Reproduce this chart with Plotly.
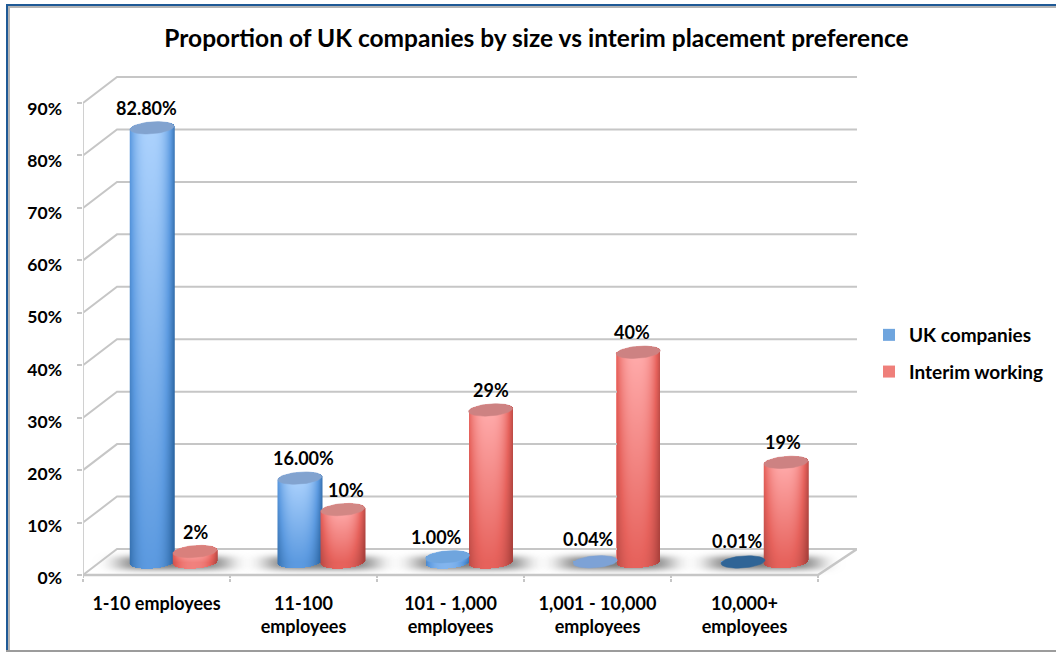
import numpy as np
import plotly.graph_objects as go

# ---- data ----
categories = ["1-10 employees", "11-100<br>employees", "101 - 1,000<br>employees",
              "1,001 - 10,000<br>employees", "10,000+<br>employees"]
uk_companies = [82.8, 16.0, 1.0, 0.04, 0.01]
interim_working = [2, 10, 29, 40, 19]
uk_labels = ["82.80%", "16.00%", "1.00%", "0.04%", "0.01%"]
interim_labels = ["2%", "10%", "29%", "40%", "19%"]
y_ticks = list(range(0, 100, 10))
y_tick_text = [f"{v}%" for v in y_ticks]
title = "Proportion of UK companies by size vs interim placement preference"

# ---- styling ----
W, H = 1056, 652
PX_L, PX_R, PX_T, PX_Z = 83, 857, 66, 575      # plot left/right/top, pixel row of 0%
SX, SY = 147.0, 5.244                           # pixels per category / per percent
PX_B = PX_Z + 3                                 # plot bottom, a little below 0%
DX, DY = 34 / SX, 26 / SY                       # depth of the 3-D box
XR = (PX_R - PX_L) / SX
YR = (PX_Z - PX_T) / SY
YLOW = -(PX_B - PX_Z) / SY
HALF = 22 / SX
SEP = 21.5 / SX
BASE = 13 / SY
CAP_B = 6 / SY
TILT = 1.6 / SY
GROUP_STEP = 147.75 / SX
GRID = "#c6c6c6"
FONT = "Lato"
BLUE_CS = [[0, "#1f4f86"], [0.34, "#2f6aa8"], [0.62, "#5c9ae0"], [1, "#acd2fd"]]
RED_CS = [[0, "#8c2a27"], [0.34, "#b0443f"], [0.62, "#e6625c"], [1, "#ffabab"]]
uk_caps = ["#82a3cf", "#82a3cf", "#6fa5de", "#7da2d6", "#2f6496"]
int_caps = ["#d9807c", "#d28784", "#cd8282", "#cd8282", "#cd8282"]
uk_dx = [-6, 4, -11, -7, -6]
uk_dy = [20, 20, 20, 23, 21]
int_dx = [0, 3, 0, -6, -3]
int_dy = [20, 20, 20, 20, 20]

fig = go.Figure()

positions = np.arange(len(categories)) * GROUP_STEP + 0.5 + DX / 2

# floor shadows
for cx in positions:
    xs = cx + np.arange(-85, 85, 1.0) / SX
    ys = BASE + np.arange(-13, 16, 1.0) / SY
    X, Y = np.meshgrid((xs - cx) * SX, (ys - BASE) * SY)
    z = np.exp(-(np.abs(X / 57) ** 5) - (np.abs((Y + 0.5) / 7.5) ** 2.6))
    fig.add_trace(go.Heatmap(x=xs.tolist(), y=ys.tolist(), z=np.round(z, 3).tolist(), zmin=0, zmax=1,
                             colorscale=[[0, "rgba(105,105,105,0)"], [1, "rgba(105,105,105,0.85)"]],
                             showscale=False, hoverinfo="skip"))

# box: gridlines on the back wall and slanted side-wall lines
for t in y_ticks:
    fig.add_trace(go.Scatter(x=[0, DX, XR], y=[t, t + DY, t + DY], mode="lines",
                             line=dict(color=GRID, width=2), showlegend=False, hoverinfo="skip"))
fig.add_trace(go.Scatter(x=[0, 0], y=[YLOW, y_ticks[-1]], mode="lines",
                         line=dict(color="#d0d0d0", width=2), showlegend=False, hoverinfo="skip"))
fig.add_trace(go.Scatter(x=[0, len(categories), XR], y=[0, 0, DY], mode="lines",
                         line=dict(color=GRID, width=2.5), showlegend=False, hoverinfo="skip"))
stub_x, stub_y = [], []
for k in range(len(categories) + 1):
    stub_x += [k, k, None]
    stub_y += [0, YLOW, None]
fig.add_trace(go.Scatter(x=stub_x, y=stub_y, mode="lines", line=dict(color=GRID, width=2),
                         showlegend=False, hoverinfo="skip"))

# series as bars (the solid core of each cylinder)
for name, vals, sign, col in (("UK companies", uk_companies, -1, "#6fa5de"),
                              ("Interim working", interim_working, 1, "#ef7f7a")):
    fig.add_trace(go.Bar(x=(positions + sign * SEP).tolist(), y=vals, base=BASE, width=2 * HALF,
                         marker=dict(color=col, line=dict(width=0)), name=name, legendgroup=name,
                         hoverinfo="skip"))


def ellipse(cx, cy):
    t = np.linspace(0, 2 * np.pi, 60)
    return cx + HALF * np.cos(t), cy + CAP_B * np.sin(t) + TILT * np.cos(t)


# cylinder shading and caps, on an overlay subplot
for vals, sign, cs, caps in ((uk_companies, -1, BLUE_CS, uk_caps),
                             (interim_working, 1, RED_CS, int_caps)):
    for pos, v, cap in zip(positions + sign * SEP, vals, caps):
        top = BASE + v
        if v >= 0.5:
            xs = pos + np.arange(-22, 22.01, 0.5) / SX
            ys = np.arange(BASE - CAP_B - 3 / SY, top + 3 / SY + CAP_B, 0.5 / SY)
            u = (xs - pos) / HALF
            U, Yg = np.meshgrid(u, ys)
            root = np.sqrt(np.clip(1 - U ** 2, 0, 1))
            low = BASE - CAP_B * root + TILT * U
            up = top + CAP_B * root + TILT * U
            vn = np.clip((Yg - BASE) / max(top - BASE, 1e-6), 0, 1)
            shade = 0.52 + 0.48 * (1 - np.abs(U + 0.08) ** 2.6)
            gmin = 0.62 + 0.2 * (1 - min(v / 10, 1))
            z = shade * (gmin + (1 - gmin) * vn)
            z = np.where((Yg >= low) & (Yg <= up) & (np.abs(U) <= 1), z, np.nan)
            z = np.round(z, 3).astype(object)
            z[np.array(z, dtype=float) != np.array(z, dtype=float)] = None
            fig.add_trace(go.Heatmap(x=xs.tolist(), y=ys.tolist(), z=z.tolist(), zmin=0, zmax=1,
                                     colorscale=cs, showscale=False, hoverinfo="skip",
                                     xaxis="x2", yaxis="y2"))
        ex, ey = ellipse(pos, top)
        fig.add_trace(go.Scatter(x=ex.tolist(), y=ey.tolist(), mode="lines", fill="toself",
                                 fillcolor=cap, line=dict(color=cap, width=0.5),
                                 showlegend=False, hoverinfo="skip", xaxis="x2", yaxis="y2"))

# value labels
annotations = []
for vals, labels, sign, offs, ups in ((uk_companies, uk_labels, -1, uk_dx, uk_dy),
                                      (interim_working, interim_labels, 1, int_dx, int_dy)):
    for pos, v, lab, off, up_px in zip(positions + sign * SEP, vals, labels, offs, ups):
        annotations.append(dict(x=pos, y=BASE + v, xref="x2", yref="y2", text=f"<b>{lab}</b>",
                                showarrow=False, xshift=off, yshift=up_px,
                                font=dict(family=FONT, size=18, color="#000000")))

# frame
def px(x):
    return (x - PX_L) / (PX_R - PX_L)


def py(y):
    return (PX_B - y) / (PX_B - PX_T)


frame = [
    (6, 4, W, 6, "#1f5a96"), (6, 4, 8, 650, "#1f5a96"),
    (8, 6, W, 8, "#b4b4b4"), (8, 6, 10, 650, "#b4b4b4"),
    (6, 650, W, 652, "#9c9c9c"),
]
shapes = [dict(type="rect", xref="paper", yref="paper", x0=px(a), y0=py(b), x1=px(c), y1=py(d),
               fillcolor=col, line=dict(width=0), layer="below") for a, b, c, d, col in frame]

label_vals = [YLOW * 0.97 + t * (52.11 / 52.44) for t in y_ticks]

fig.update_layout(
    width=W, height=H, autosize=False,
    margin=dict(l=PX_L, r=W - PX_R, t=PX_T, b=H - PX_B, pad=0),
    paper_bgcolor="white", plot_bgcolor="rgba(0,0,0,0)",
    barmode="overlay", bargap=0,
    font=dict(family=FONT, color="#000000"),
    title=dict(text=f"<b>{title}</b>", x=(163 + 910) / 2 / W, xanchor="center",
               y=1 - 38 / H, yanchor="middle", font=dict(family=FONT, size=24.5, color="#000000")),
    xaxis=dict(range=[0, XR], tickmode="array", tickvals=(np.arange(len(categories)) + 0.5).tolist(),
               ticktext=[f"<b>{c}</b>" for c in categories], tickangle=0, ticks="", showgrid=False,
               zeroline=False, showline=False, ticklabelstandoff=13,
               tickfont=dict(family=FONT, size=18, color="#000000"),
               minor=dict(tickmode="array", tickvals=list(range(len(categories) + 1)), ticks="outside",
                          ticklen=3, tickwidth=2, tickcolor=GRID, showgrid=False)),
    yaxis=dict(range=[YLOW, YR], tickmode="array", tickvals=label_vals,
               ticktext=[f"<b>{t}</b>" for t in y_tick_text], ticks="", showgrid=False, zeroline=False,
               showline=False, ticklabelstandoff=20,
               tickfont=dict(family=FONT, size=17.5, color="#000000"),
               minor=dict(tickmode="array", tickvals=y_ticks, ticks="outside", ticklen=5, tickwidth=2,
                          tickcolor=GRID, showgrid=False)),
    xaxis2=dict(range=[0, XR], overlaying="x", visible=False),
    yaxis2=dict(range=[YLOW, YR], overlaying="y", visible=False),
    legend=dict(x=(883 - 14) / W, xref="container", y=1 - 316 / H, yref="container", xanchor="left",
                yanchor="top", bgcolor="rgba(0,0,0,0)", traceorder="grouped", tracegroupgap=9,
                font=dict(family=FONT, size=19, color="#000000", weight=700), itemclick=False,
                itemdoubleclick=False),
    annotations=annotations, shapes=shapes, hovermode=False,
)

fig.write_html("out.html", post_script="document.body.style.margin='0';",
               config={"displayModeBar": False})
